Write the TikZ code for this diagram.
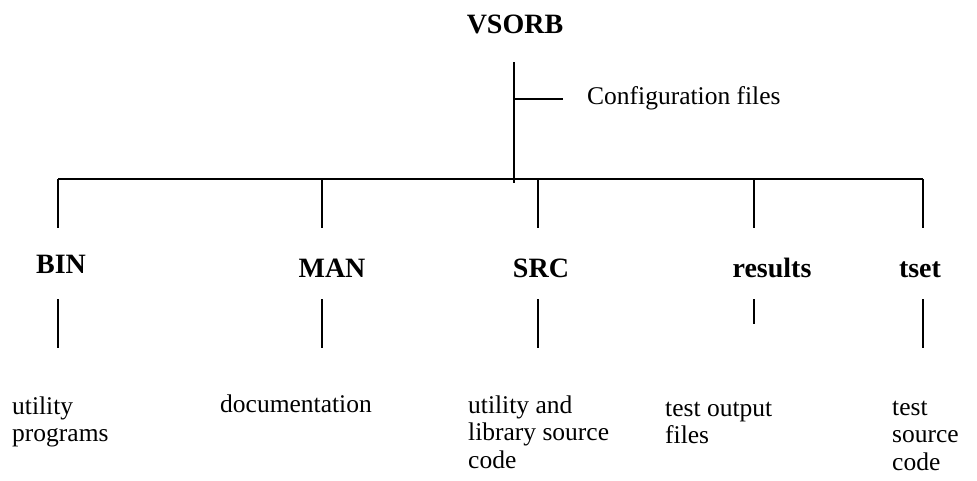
\documentclass[tikz,border=0pt]{standalone}
\usepackage{fontspec}
\setmainfont{Liberation Serif}
\begin{document}
\begin{tikzpicture}[x=1pt,y=-1pt,
  line/.style={draw=black,line width=1.1pt},
  dirlabel/.style={font=\fontsize{28}{33}\selectfont\bfseries,inner sep=0pt,anchor=base},
  desc/.style={font=\fontsize{25.5}{27.5}\selectfont,inner sep=0pt,anchor=north west,align=left},
]
\useasboundingbox (0,0) rectangle (977,480);
% root
\node[dirlabel] (root) at (515,33) {VSORB};
\coordinate (t0) at (514,62);
\coordinate (t1) at (514,183);
\coordinate (cb) at (514,99);
\coordinate (ce) at (563,99);
\node[desc,anchor=base west] (conf) at (587,104) {Configuration files};
\draw[line] (t0) -- (t1);
\draw[line] (cb) -- (ce);
% bus
\coordinate (b0) at (58,179);
\coordinate (b1) at (923,179);
\draw[line] (b0) -- (b1);
% directory labels
\node[dirlabel] (bin) at (61,273) {BIN};
\node[dirlabel] (man) at (332,277) {MAN};
\node[dirlabel] (src) at (541,277) {SRC};
\node[dirlabel] (res) at (772,277) {results};
\node[dirlabel] (tset) at (920,277) {tset};
% drops from bus
\foreach \n/\x in {bin/58,man/322,src/538,res/754,tset/923}{
  \coordinate (\n-up0) at (\x,179);
  \coordinate (\n-up1) at (\x,228);
  \draw[line] (\n-up0) -- (\n-up1);
}
% lower drops
\foreach \n/\x/\e in {bin/58/348,man/322/348,src/538/348,res/754/324,tset/923/348}{
  \coordinate (\n-dn0) at (\x,299);
  \coordinate (\n-dn1) at (\x,\e);
  \draw[line] (\n-dn0) -- (\n-dn1);
}
% descriptions (first baseline = y + 19.25)
\node[desc] (dbin) at (12,395) {\strut utility\\programs};
\node[desc] (dman) at (220,393) {\strut documentation};
\node[desc] (dsrc) at (468,394) {\strut utility and\\library source\\code};
\node[desc] (dres) at (665,397) {\strut test output\\files};
\node[desc] (dtset) at (892,396) {\strut test\\source\\code};
\end{tikzpicture}
\end{document}
